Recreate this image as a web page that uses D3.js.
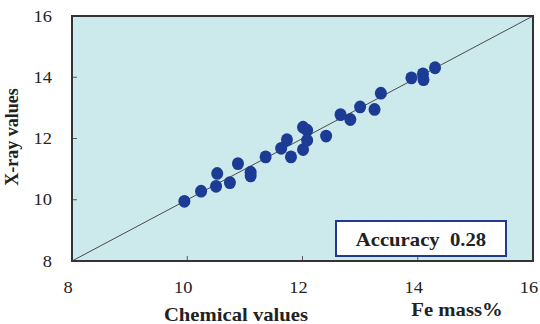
<!DOCTYPE html>
<html>
<head>
<meta charset="utf-8">
<script src="https://cdn.jsdelivr.net/npm/d3@7"></script>
<style>
  body { margin: 0; background: #fff; }
  svg { display: block; font-family: "Liberation Serif", "DejaVu Serif", serif; }
</style>
</head>
<body>
<div id="chart"></div>
<script>
// chemical (x) vs X-ray (y) Fe mass%
const chemical = [9.95, 10.24, 10.50, 10.52, 10.74, 10.88, 11.10, 11.10, 11.36, 11.63, 11.73, 11.80, 12.01, 12.08, 12.08, 12.01, 12.41, 12.66, 12.83, 13.00, 13.25, 13.36, 13.89, 14.09, 14.10, 14.30];
const xray = [9.95, 10.28, 10.44, 10.86, 10.56, 11.18, 10.78, 10.90, 11.40, 11.68, 11.96, 11.40, 12.37, 12.27, 11.94, 11.64, 12.08, 12.78, 12.62, 13.03, 12.95, 13.48, 13.98, 14.11, 13.92, 14.31];
const ticks = [8, 10, 12, 14, 16];
const accuracy = 0.28;

const width = 540, height = 324;
const margin = { top: 16, right: 7, bottom: 63, left: 72 };
const stretch = 1.15; // the original figure is a bit wide, text looks stretched

const svg = d3.select("#chart").append("svg")
  .attr("width", width)
  .attr("height", height);

const x = d3.scaleLinear().domain([8, 16]).range([margin.left, width - margin.right]);
const y = d3.scaleLinear().domain([8, 16]).range([height - margin.bottom, margin.top]);

function label(cx, cy, txt, size, bold, anchor) {
  return svg.append("text")
    .attr("transform", `translate(${cx},${cy}) scale(${stretch},1)`)
    .attr("text-anchor", anchor || "middle")
    .attr("font-size", size)
    .attr("font-weight", bold ? "bold" : "normal")
    .attr("fill", "#222")
    .attr("xml:space", "preserve")
    .text(txt);
}

svg.append("rect")
  .attr("x", x(8)).attr("y", y(16))
  .attr("width", x(16) - x(8)).attr("height", y(8) - y(16))
  .attr("fill", "#cce9ec");

svg.append("clipPath").attr("id", "plot-clip")
  .append("rect")
  .attr("x", x(8)).attr("y", y(16))
  .attr("width", x(16) - x(8)).attr("height", y(8) - y(16));

// 1:1 line
svg.append("line")
  .attr("clip-path", "url(#plot-clip)")
  .attr("x1", x(8)).attr("y1", y(8))
  .attr("x2", x(16)).attr("y2", y(16))
  .attr("stroke", "#4a4a4a")
  .attr("stroke-width", 1);

// inner ticks
const inner = ticks.slice(1, -1);
svg.append("g").selectAll("line").data(inner).join("line")
  .attr("x1", x(8)).attr("x2", x(8) + 5)
  .attr("y1", d => y(d)).attr("y2", d => y(d))
  .attr("stroke", "#555");
svg.append("g").selectAll("line").data(inner).join("line")
  .attr("y1", y(8)).attr("y2", y(8) - 5)
  .attr("x1", d => x(d)).attr("x2", d => x(d))
  .attr("stroke", "#555");

// points
svg.append("g").selectAll("ellipse")
  .data(chemical.map((c, i) => [c, xray[i]]))
  .join("ellipse")
  .attr("cx", d => x(d[0]))
  .attr("cy", d => y(d[1]))
  .attr("rx", 6)
  .attr("ry", 6.4)
  .attr("fill", "#1c3b95");

// frame
svg.append("rect")
  .attr("x", x(8)).attr("y", y(16))
  .attr("width", x(16) - x(8)).attr("height", y(8) - y(16))
  .attr("fill", "none")
  .attr("stroke", "#333")
  .attr("stroke-width", 2);

// tick labels
ticks.forEach(d => {
  label(margin.left - 20, y(d) + 5.5, d, 16, false, "end");
  label(x(d) - 4, 293, d, 16, false);
});

// axis titles
svg.append("text")
  .attr("transform", `translate(18,137) rotate(-90)`)
  .attr("text-anchor", "middle")
  .attr("font-size", 18)
  .attr("font-weight", "bold")
  .attr("fill", "#222")
  .text("X-ray values");

label(236, 321, "Chemical values", 18, true);
label(457, 316, "Fe mass%", 18, true);

// accuracy box
svg.append("rect")
  .attr("x", 336).attr("y", 221)
  .attr("width", 170).attr("height", 35)
  .attr("fill", "#fff")
  .attr("stroke", "#1f3a8f")
  .attr("stroke-width", 2);

label(421, 246, `Accuracy  ${accuracy.toFixed(2)}`, 18, true);
</script>
</body>
</html>
